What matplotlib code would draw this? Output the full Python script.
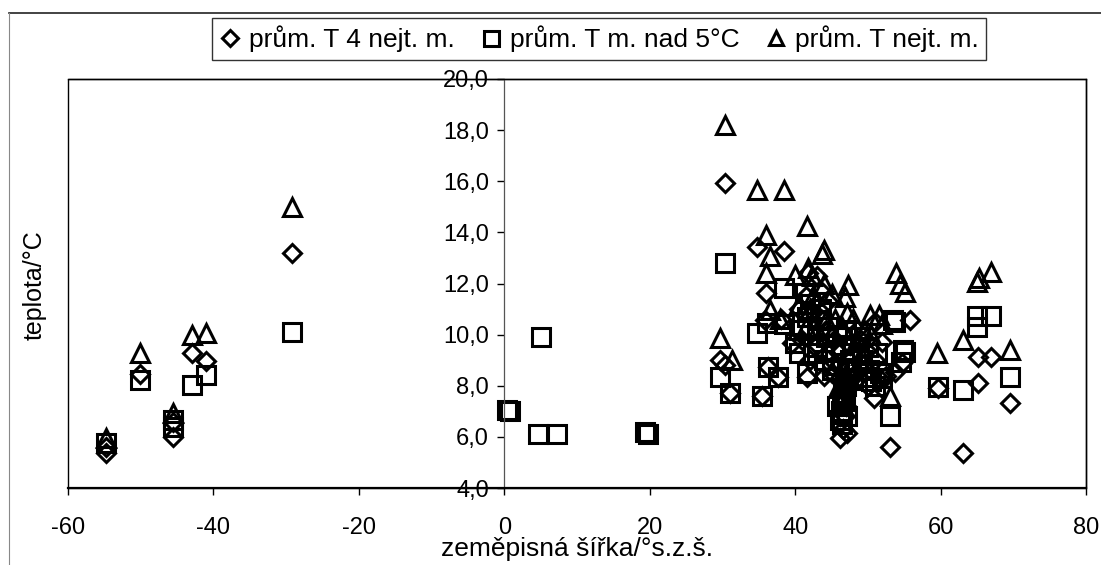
import matplotlib
matplotlib.use("Agg")
import matplotlib.pyplot as plt
from matplotlib.lines import Line2D
from matplotlib.ticker import FuncFormatter

plt.rcParams['font.family'] = ['Liberation Sans', 'DejaVu Sans']
plt.rcParams['axes.unicode_minus'] = False

# prům. T 4 nejt. m. (diamonds)
lat_4m = [-54.8, -54.8, -50.1, -45.5, -45.5, -43.0, -41.0, -29.2,
          30.3, 29.7, 30.3, 31.1, 34.8, 35.4, 35.9, 36.0, 36.3, 37.7, 38.4, 39.5,
          41.6, 41.8, 42.5, 43.4, 44.3, 45.0, 45.5, 46.2, 46.6, 47.1, 47.0, 48.0,
          49.0, 49.8, 50.8, 51.5, 52.0, 53.1, 53.7, 54.7, 55.8, 59.6, 63.1, 65.2,
          65.2, 67.0, 69.6, 38.0, 40.5, 43.0, 44.5, 47.5, 48.5, 51.0,
          41.0, 42.0, 43.0, 44.0, 45.0, 46.0, 47.5, 48.5, 49.0, 50.0, 51.0, 52.5,
          41.5, 43.5, 46.4, 46.8]
t_4m = [5.35, 5.6, 8.45, 6.0, 6.6, 9.3, 8.95, 13.2,
        15.92, 9.0, 8.8, 7.7, 13.44, 7.6, 10.58, 11.62, 8.75, 8.36, 13.27, 9.66,
        8.36, 12.4, 10.9, 11.75, 10.2, 9.92, 8.9, 5.95, 6.3, 6.14, 7.2, 8.4,
        8.9, 9.4, 7.51, 8.3, 9.7, 5.62, 8.55, 8.88, 10.58, 7.9, 5.36, 9.14,
        8.1, 9.14, 7.31, 10.6, 11.0, 12.3, 11.3, 9.6, 10.2, 10.5,
        9.8, 9.0, 9.6, 8.4, 8.5, 9.3, 8.0, 8.5, 9.8, 8.0, 9.0, 8.4,
        11.5, 10.6, 7.6, 6.8]

# prům. T m. nad 5°C (squares)
lat_5c = [-54.8, -50.1, -45.5, -45.5, -43.0, -41.0, -29.2,
          0.4, 0.8, 4.7, 7.2, 5.0, 19.4, 19.8,
          30.3, 29.7, 31.1, 34.7, 35.4, 36.1, 36.3, 37.7, 38.4, 40.0, 41.4, 41.6,
          41.6, 42.5, 43.4, 44.3, 45.7, 46.2, 46.4, 46.6, 46.8, 47.0, 47.2, 48.0,
          48.9, 49.8, 51.2, 51.7, 53.1, 53.5, 53.7, 54.6, 54.9, 55.1, 59.6, 63.1,
          65.0, 67.0, 65.0, 69.6, 44.5, 45.5, 47.5, 50.2, 40.5,
          40.5, 42.0, 43.0, 44.0, 45.0, 45.8, 46.5, 47.8, 48.5, 49.2, 50.0, 50.5,
          51.0, 52.0, 43.5, 42.0, 38.5, 47.0, 46.3, 46.5, 46.7, 46.9, 47.1, 46.4]
t_5c = [5.75, 8.23, 6.66, 6.4, 8.03, 8.42, 10.12,
        7.05, 7.0, 6.11, 6.11, 9.9, 6.2, 6.1,
        12.82, 8.36, 7.71, 10.05, 7.6, 10.45, 8.75, 8.36, 11.81, 9.66, 11.62, 10.7,
        8.49, 9.27, 10.58, 9.92, 7.2, 6.67, 6.9, 7.7, 7.4, 8.0, 6.8, 8.23,
        9.92, 8.36, 9.27, 8.49, 6.8, 10.58, 10.5, 8.94, 9.4, 9.33, 7.96, 7.83,
        10.73, 10.73, 10.31, 8.35, 10.3, 9.4, 9.0, 8.6, 9.3,
        10.2, 10.0, 9.5, 9.0, 8.6, 10.0, 9.6, 9.3, 8.6, 9.0, 9.5, 8.2,
        8.0, 8.3, 11.0, 11.2, 10.4, 10.2, 7.0, 7.5, 7.9, 8.3, 8.7, 6.5]

# prům. T nejt. m. (triangles)
lat_nm = [-54.8, -50.1, -45.5, -43.0, -41.0, -29.2,
          30.3, 34.7, 38.4, 41.6, 36.0, 36.6, 43.9, 43.7, 36.0, 40.0, 41.8, 42.3,
          47.3, 46.9, 53.9, 54.4, 55.1, 29.7, 31.3, 36.6, 37.9, 45.0, 47.1, 50.3,
          51.5, 53.1, 44.3, 59.5, 63.1, 65.0, 65.3, 67.0, 69.6, 42.0, 46.2, 48.5,
          49.5, 45.5, 43.0,
          40.5, 41.5, 42.5, 44.0, 45.5, 46.5, 48.0, 49.0, 50.5, 52.0, 44.5, 47.0, 46.0]
t_nm = [5.94, 9.27, 6.92, 9.99, 10.05, 15.0,
        18.2, 15.66, 15.66, 14.23, 13.9, 13.08, 13.31, 13.15, 12.4, 12.34, 12.6, 12.3,
        11.94, 11.49, 12.4, 12.0, 11.68, 9.86, 9.01, 10.97, 10.6, 11.6, 10.84, 10.77,
        10.77, 7.58, 10.58, 9.27, 9.8, 12.07, 12.2, 12.46, 9.4, 11.0, 7.3, 9.8,
        10.2, 8.8, 10.2,
        11.2, 10.3, 11.5, 12.0, 10.6, 10.3, 10.6, 9.2, 10.0, 10.4, 9.4, 8.5, 8.0]

series = [
    (lat_4m, t_4m, 'D', 9.6, 'prům. T 4 nejt. m.'),
    (lat_5c, t_5c, 's', 13.5, 'prům. T m. nad 5°C'),
    (lat_nm, t_nm, '^', 13.0, 'prům. T nejt. m.'),
]

fig = plt.figure(figsize=(11.01, 5.65), dpi=100)
ax = fig.add_axes([68 / 1101, 1 - 488 / 565, 1018 / 1101, 409 / 565])

for xs, ys, mk, ms, lab in series:
    ax.plot(xs, ys, linestyle='none', marker=mk, markersize=ms,
            markerfacecolor='none', markeredgecolor='black',
            markeredgewidth=2.2, label=lab)

ax.set_xlim(-60, 80)
ax.set_ylim(4, 20)
ax.set_xticks(range(-60, 81, 20))
ax.set_yticks(range(4, 21, 2))
ax.yaxis.set_major_formatter(FuncFormatter(lambda v, p: ('%.1f' % v).replace('.', ',')))

# y axis crosses at x = 0, plot area keeps its own frame
ax.spines['left'].set_position(('data', 0))
ax.spines['left'].set_color('#555555')
ax.spines['left'].set_linewidth(0.9)
for s in ['right', 'top']:
    ax.spines[s].set_linewidth(1.0)
ax.spines['bottom'].set_linewidth(1.6)
ax.add_patch(plt.Rectangle((0, 0), 1, 1, transform=ax.transAxes, fill=False,
                           edgecolor='black', linewidth=1.0, clip_on=False))

ax.tick_params(axis='x', direction='out', length=5, width=1, pad=16, labelsize=17)
ax.tick_params(axis='y', direction='out', length=5, width=1, pad=6, labelsize=17)

fig.text(577 / 1101, 1 - 549 / 565, 'zeměpisná šířka/°s.z.š.', fontsize=19,
         ha='center', va='center')
fig.text(35 / 1101, 1 - 285 / 565, 'teplota/°C', rotation=90, fontsize=18,
         ha='center', va='center')

leg = fig.legend(loc='center', bbox_to_anchor=(599 / 1101, 1 - 39 / 565), ncol=3,
                 fontsize=19, frameon=True, fancybox=False, edgecolor='black',
                 markerscale=0.8, handlelength=0.8, handletextpad=0.3,
                 columnspacing=1.0, borderpad=0.3, borderaxespad=0)
leg.get_frame().set_linewidth(1.0)

# outer border of the chart area
fig.add_artist(Line2D([9 / 1101, 1.0], [1 - 13 / 565] * 2, transform=fig.transFigure,
                      color='#222222', linewidth=1.2))
fig.add_artist(Line2D([9 / 1101] * 2, [0, 1 - 13 / 565], transform=fig.transFigure,
                      color='#888888', linewidth=0.8))

fig.savefig('out.png', dpi=100)
